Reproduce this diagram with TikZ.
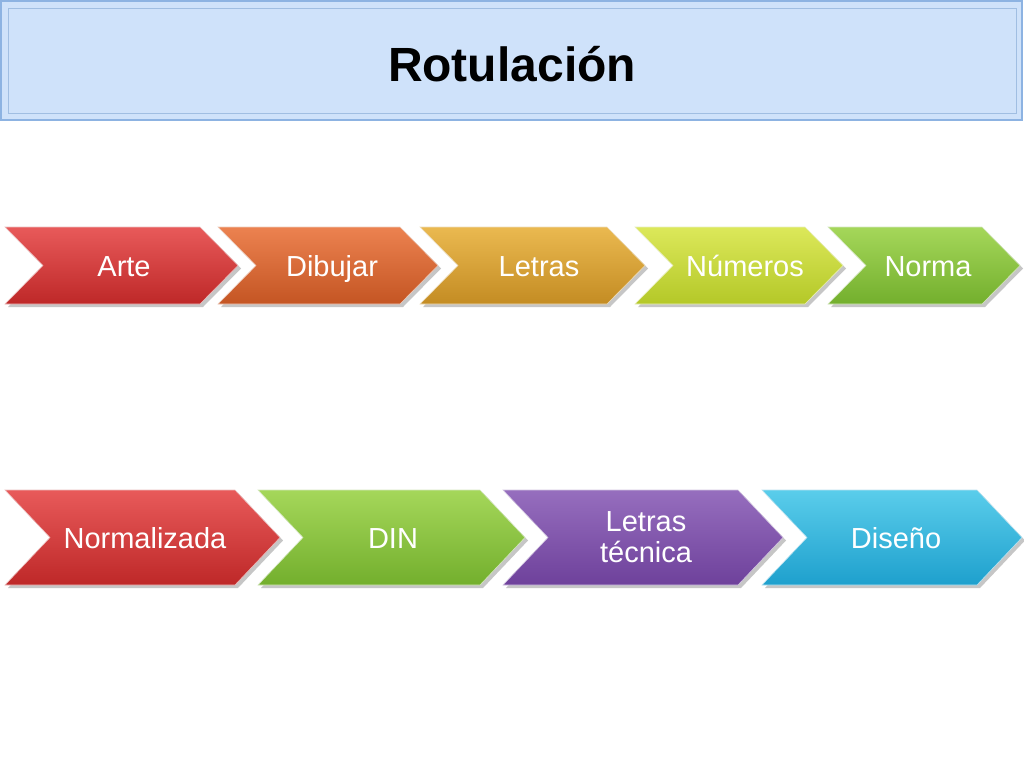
\documentclass[tikz,border=0pt]{standalone}
\usepackage{fontspec}
\setmainfont{Liberation Sans}
\begin{document}
\begin{tikzpicture}[x=1pt,y=-1pt,
  lbl/.style={text=white,font=\fontsize{29}{31}\selectfont,align=center},
  ttl/.style={font=\bfseries\fontsize{48}{50}\selectfont}]
\useasboundingbox (0,0) rectangle (1024,768);
\fill[white] (0,0) rectangle (1024,768);
% title
\draw[fill={rgb,255:red,207;green,226;blue,250},draw={rgb,255:red,141;green,179;blue,226},line width=1.5] (1,1) rectangle (1022,120);
\draw[draw={rgb,255:red,160;green,190;blue,226},line width=0.8] (8,8) rectangle (1016,113);
\node[ttl] (title) at (512,64) {Rotulación};
\newcommand{\chev}[7]{%
  \fill[gray!45] ({#1+3},{#3+3}) -- ({#2-#5+3},{#3+3}) -- ({#2+3},{(#3+#4)/2+3}) -- ({#2-#5+3},{#4+3}) -- ({#1+3},{#4+3}) -- ({#1+#5+3},{(#3+#4)/2+3}) -- cycle;
  \shade[top color=#6,bottom color=#7,draw=white!70!#7,line width=0.6] (#1,#3) -- ({#2-#5},#3) -- (#2,{(#3+#4)/2}) -- ({#2-#5},#4) -- (#1,#4) -- ({#1+#5},{(#3+#4)/2}) -- cycle;
}
\definecolor{r1}{RGB}{232,90,90}\definecolor{r2}{RGB}{190,40,40}
\definecolor{o1}{RGB}{236,130,80}\definecolor{o2}{RGB}{196,85,35}
\definecolor{y1}{RGB}{234,185,80}\definecolor{y2}{RGB}{196,140,35}
\definecolor{g1}{RGB}{220,232,90}\definecolor{g2}{RGB}{180,200,40}
\definecolor{n1}{RGB}{165,215,90}\definecolor{n2}{RGB}{115,175,45}
\definecolor{p1}{RGB}{150,110,190}\definecolor{p2}{RGB}{110,65,155}
\definecolor{c1}{RGB}{90,205,235}\definecolor{c2}{RGB}{30,160,205}
% row 1
\chev{5}{238}{227}{304}{38}{r1}{r2}
\chev{218}{438}{227}{304}{38}{o1}{o2}
\chev{420}{645}{227}{304}{38}{y1}{y2}
\chev{635}{843}{227}{304}{38}{g1}{g2}
\chev{828}{1020}{227}{304}{38}{n1}{n2}
\node[lbl,anchor=base] (arte) at (124,276) {Arte};
\node[lbl,anchor=base] (dib) at (332,276) {Dibujar};
\node[lbl,anchor=base] (let) at (539,276) {Letras};
\node[lbl,anchor=base] (num) at (745,276) {Números};
\node[lbl,anchor=base] (norma) at (928,276) {Norma};
% row 2
\chev{5}{280}{490}{585}{45}{r1}{r2}
\chev{258}{525}{490}{585}{45}{n1}{n2}
\chev{503}{783}{490}{585}{45}{p1}{p2}
\chev{762}{1022}{490}{585}{45}{c1}{c2}
\node[lbl,anchor=base] (normz) at (145,548) {Normalizada};
\node[lbl,anchor=base] (din) at (393,548) {DIN};
\node[lbl,align=center] (lt) at (646,537) {Letras\\técnica};
\node[lbl,anchor=base] (dis) at (896,548) {Diseño};
\end{tikzpicture}
\end{document}
